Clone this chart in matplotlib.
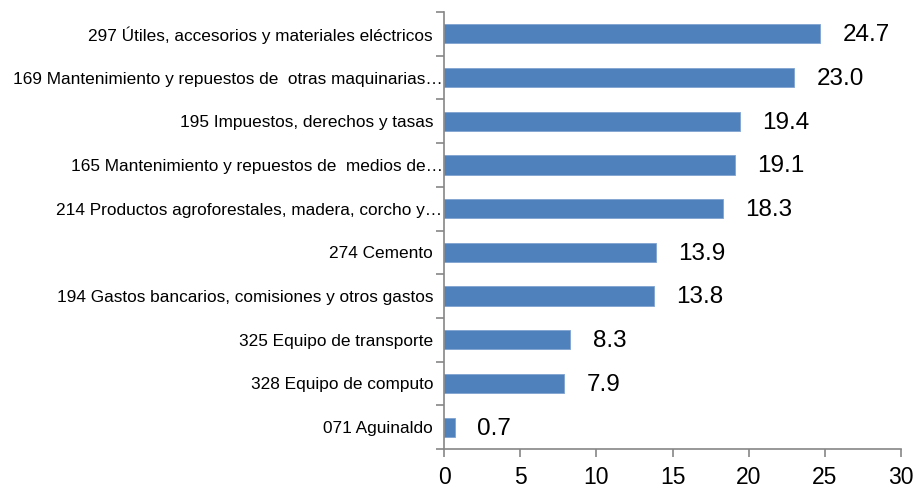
import matplotlib
matplotlib.use("Agg")
import matplotlib.pyplot as plt
from matplotlib.ticker import FixedLocator

categories = [
    "297 Útiles, accesorios y materiales eléctricos  ",
    "169 Mantenimiento y repuestos de  otras maquinarias…",
    "195 Impuestos, derechos y tasas  ",
    "165 Mantenimiento y repuestos de  medios de…",
    "214 Productos agroforestales, madera, corcho y…",
    "274 Cemento  ",
    "194 Gastos bancarios, comisiones y otros gastos  ",
    "325 Equipo de transporte  ",
    "328 Equipo de computo  ",
    "071 Aguinaldo  ",
]
values = [24.7, 23.0, 19.4, 19.1, 18.3, 13.9, 13.8, 8.3, 7.9, 0.7]
xticks = [0, 5, 10, 15, 20, 25, 30]

fam = ['Liberation Sans Narrow', 'Liberation Sans', 'DejaVu Sans']
plt.rcParams['font.family'] = fam

fig = plt.figure(figsize=(9.17, 4.93), dpi=100)
ax = fig.add_axes([0.4842, 0.0892, 0.4984, 0.8865])

n = len(categories)
ypos = list(range(n))[::-1]
bar_color = '#4F81BD'
ax.barh(ypos, values, height=0.44, color=bar_color, edgecolor='#7FA3D1', linewidth=0.6)

for y, v in zip(ypos, values):
    ax.annotate(f"{v:.1f}", xy=(v, y), xytext=(16, -1), textcoords='offset points',
                ha='left', va='center', fontsize=17.5, color='#000000')

ax.set_xlim(0, 30)
ax.set_ylim(-0.5, n - 0.5)
ax.set_xticks(xticks)
ax.set_xticklabels([str(t) for t in xticks], fontsize=16.5)

ax.set_yticks(ypos)
ax.set_yticklabels(categories, fontsize=12.4)
ax.tick_params(axis='y', which='major', length=0, pad=1)
ax.yaxis.set_minor_locator(FixedLocator([i - 0.5 for i in range(n + 1)]))
ax.tick_params(axis='y', which='minor', length=6, color='#868686', width=1.2, direction='out')
ax.tick_params(axis='x', length=6, color='#868686', width=1.2, direction='out', pad=6)

for s in ['top', 'right']:
    ax.spines[s].set_visible(False)
for s in ['left', 'bottom']:
    ax.spines[s].set_color('#868686')
    ax.spines[s].set_linewidth(1.2)

fig.savefig("out.png", dpi=100)
